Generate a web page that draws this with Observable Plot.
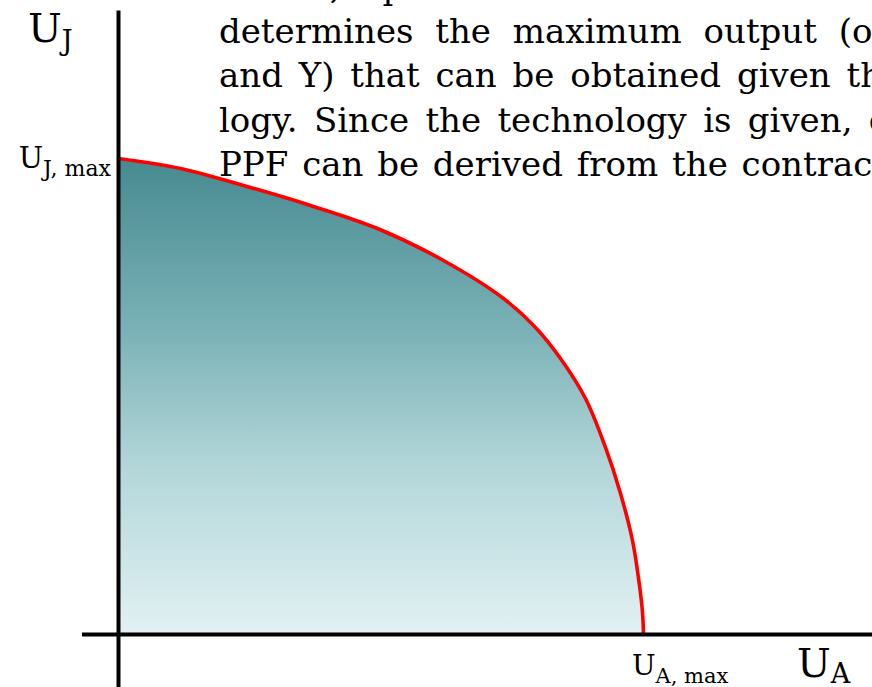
<!DOCTYPE html>
<html><head><meta charset="utf-8">
<script src="https://cdn.jsdelivr.net/npm/d3@7"></script>
<script src="https://cdn.jsdelivr.net/npm/@observablehq/plot@0.6"></script>
<style>
html,body{margin:0;padding:0;background:#fff;overflow:hidden;}
svg{display:block}
</style>
</head><body><div id="chart"></div>
<script>
// Utility possibility frontier (U_A on x, U_J on y; both max = 100)
const uA = [0, 11.81, 23.81, 36.57, 49.33, 61.90, 73.33, 79.43, 84.19, 88.95, 92.76, 95.62, 97.90, 99.24, 99.81, 100];
const uJ = [100, 97.90, 94.33, 90.13, 85.29, 78.57, 70.59, 64.50, 57.98, 49.58, 39.29, 29.62, 19.75, 10.29, 4.62, 0];
const paragraphLines = [
  "Hence, a production function",
  "determines the maximum output (of X",
  "and Y) that can be obtained given the techno-",
  "logy. Since the technology is given, one",
  "PPF can be derived from the contract curve."
];
const axisLabels = [
  {id: "yName", main: "U", sub: "J"},
  {id: "yMax", main: "U", sub: "J, max"},
  {id: "xMax", main: "U", sub: "A, max"},
  {id: "xName", main: "U", sub: "A"}
];

// styles (not data)
const lineWordSpacing = [0, 11, 5, 5.5, 3];
const FONT = "'DejaVu Serif', 'Liberation Serif', serif";
const W = 872, H = 687;

const frontier = uA.map((a, i) => ({a, j: uJ[i]}));

const defs = () => {
  const svg = d3.create("svg:defs");
  const g = svg.append("linearGradient").attr("id", "ppfFill")
    .attr("x1", 0).attr("y1", 0).attr("x2", 0).attr("y2", 1);
  g.append("stop").attr("offset", "0%").attr("stop-color", "#468a90");
  g.append("stop").attr("offset", "35%").attr("stop-color", "#78b0b5");
  g.append("stop").attr("offset", "65%").attr("stop-color", "#b3d6d9");
  g.append("stop").attr("offset", "100%").attr("stop-color", "#e2f1f3");
  return svg.node();
};

const labelStyle = {
  yName: {size: 40, sub: 27, dy: 8, anchor: "start"},
  yMax: {size: 29, sub: 22, dy: 8, anchor: "end"},
  xMax: {size: 28, sub: 21, dy: 8, anchor: "start"},
  xName: {size: 40, sub: 27, dy: 6, anchor: "start"}
};

const labels = (index, scales) => {
  const sx = scales.x, sy = scales.y;
  const pos = {
    yName: [sx(0) - 90, 42],
    yMax: [sx(0) - 7, sy(100) + 10],
    xMax: [sx(100) - 11, sy(0) + 41],
    xName: [sx(100) + 154, sy(0) + 43]
  };
  const g = d3.create("svg:g").attr("font-family", FONT).attr("fill", "#000");
  for (const l of axisLabels) {
    const st = labelStyle[l.id];
    const [x, y] = pos[l.id];
    const t = g.append("text").attr("x", x).attr("y", y)
      .attr("text-anchor", st.anchor).attr("font-size", st.size);
    t.append("tspan").text(l.main);
    t.append("tspan").attr("font-size", st.sub).attr("dy", st.dy).text(l.sub);
  }
  return g.node();
};

const paragraph = (index, scales) => {
  const g = d3.create("svg:g").attr("font-family", FONT).attr("font-size", 34)
    .attr("text-anchor", "start").attr("fill", "#000");
  const x0 = scales.x(0) + 101;
  const lastBaseline = scales.y(100) + 18;
  const n = paragraphLines.length;
  paragraphLines.forEach((line, i) => {
    g.append("text").attr("x", x0).attr("y", lastBaseline - (n - 1 - i) * 44.3)
      .attr("text-anchor", "start")
      .attr("word-spacing", lineWordSpacing[i]).text(line);
  });
  return g.node();
};

const chart = Plot.plot({
  width: W,
  height: H,
  margin: 0,
  x: {domain: [-22.476, 143.62], axis: null},
  y: {domain: [-11.134, 133.19], axis: null},
  style: {background: "#fff"},
  marks: [
    defs,
    Plot.areaY(frontier, {x: "a", y: "j", curve: "catmull-rom", fill: "url(#ppfFill)"}),
    Plot.line(frontier, {x: "a", y: "j", curve: "catmull-rom", stroke: "#ff0000", strokeWidth: 3.6}),
    Plot.ruleX([0], {y1: -11.134, y2: 131, stroke: "#000", strokeWidth: 4}),
    Plot.ruleY([0], {x1: -6.86, x2: 143.62, stroke: "#000", strokeWidth: 4}),
    paragraph,
    labels
  ]
});
document.getElementById("chart").append(chart);
</script>
</body></html>
